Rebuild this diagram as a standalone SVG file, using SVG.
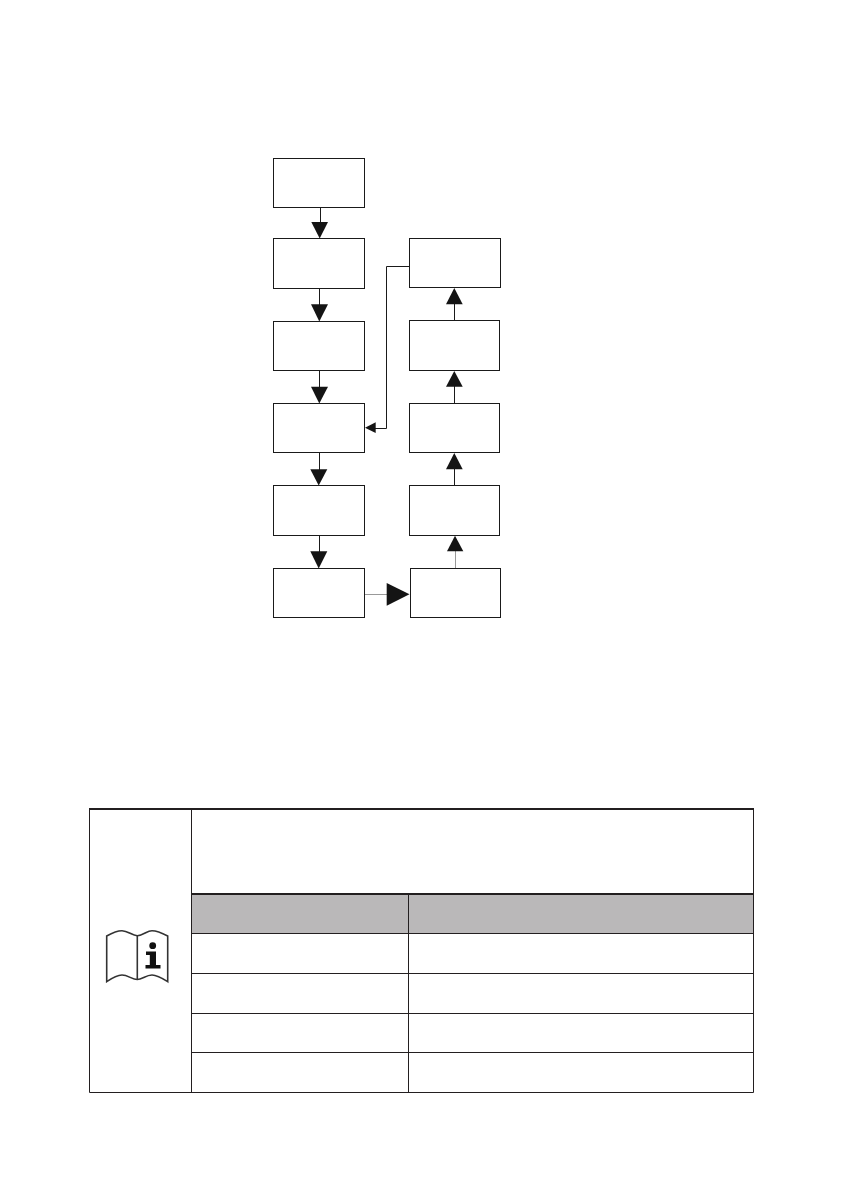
<svg xmlns="http://www.w3.org/2000/svg" width="842" height="1191" viewBox="0 0 842 1191">
<style>
.box{fill:#fff;stroke:#1a1a1a;stroke-width:1}
.ln{fill:none;stroke:#1a1a1a;stroke-width:1}
.gr{fill:none;stroke:#999;stroke-width:1}
.ah{fill:#141414;stroke:none}
.t1{fill:none;stroke:#231f20;stroke-width:1}
.t2{fill:none;stroke:#231f20;stroke-width:2}
.ic{fill:none;stroke:#333;stroke-width:1.6}
</style>
<rect width="842" height="1191" fill="#fff"/>
<g id="connectors">
<path class="ln" d="M320.5 207.5V223"/><path class="ah" d="M311.3 222H328L319.7 238.5Z"/>
<path class="ln" d="M319.5 288.5V305"/><path class="ah" d="M311 304.3H328L319.3 321.5Z"/>
<path class="ln" d="M319.5 370.5V387"/><path class="ah" d="M311 386.7H328L319.3 403.5Z"/>
<path class="ln" d="M319.5 452.5V470"/><path class="ah" d="M310.3 469.3H327.3L318.7 485.5Z"/>
<path class="ln" d="M319.5 535.5V552"/><path class="ah" d="M310.3 551.3H327.3L318.7 568.5Z"/>
<path class="gr" d="M365 594.5H387"/><path class="ah" d="M386.7 583V605.7L409.5 594.3Z"/>
<path class="gr" d="M455.5 568V551"/><path class="ah" d="M447 551.3H463.3L455 535.7Z"/>
<path class="ln" d="M454.5 485.5V469"/><path class="ah" d="M446 469.3H462.7L454.3 453Z"/>
<path class="ln" d="M454.5 403.5V386"/><path class="ah" d="M446 386.7H462.7L454.3 371Z"/>
<path class="ln" d="M454.5 320.5V304"/><path class="ah" d="M446 304.3H462.7L454.3 288Z"/>
<path class="ln" d="M409.5 266.5H386.5V428.5H375"/><path class="ah" d="M365 427.7L375.7 422.3V433Z"/>
</g>
<g id="node-l1"><rect class="box" x="273.5" y="158.5" width="91" height="49"/></g>
<g id="node-l2"><rect class="box" x="273.5" y="238.5" width="91" height="50"/></g>
<g id="node-l3"><rect class="box" x="273.5" y="321.5" width="91" height="49"/></g>
<g id="node-l4"><rect class="box" x="273.5" y="403.5" width="91" height="49"/></g>
<g id="node-l5"><rect class="box" x="273.5" y="485.5" width="91" height="50"/></g>
<g id="node-l6"><rect class="box" x="273.5" y="568.5" width="91" height="49"/></g>
<g id="node-r1"><rect class="box" x="409.5" y="238.5" width="91" height="49"/></g>
<g id="node-r2"><rect class="box" x="409.5" y="320.5" width="90" height="50"/></g>
<g id="node-r3"><rect class="box" x="409.5" y="403.5" width="90" height="49"/></g>
<g id="node-r4"><rect class="box" x="409.5" y="485.5" width="90" height="50"/></g>
<g id="node-r5"><rect class="box" x="410.5" y="568.5" width="90" height="49"/></g>
<g id="note-table">
<rect x="191" y="894" width="562" height="39.5" fill="#bab8b9"/>
<path class="t1" d="M89.5 809V1092.5H753.5V809"/>
<path class="t2" d="M89 809H754M191 894H754"/>
<path class="t1" d="M191.5 809V1092.5M408.5 894V1092.5M191 933.5H753.5M191 973.5H753.5M191 1013.5H753.5M191 1052.5H753.5"/>
</g>
<g id="note-icon">
<path class="ic" d="M106.7 936C112 933 117 930.7 122 930.7C128 930.7 132 935.7 137.3 935.7C143 935.7 147 930.7 152 930.7C157 930.7 162 933 167.7 936V981.7C162 978 157 975 152 975C146 975 142 979.5 137.3 979.5C132 979.5 128 975 122 975C117 975 112 978 106.7 981.7Z"/>
<path class="ic" d="M137.3 935.7V979.5"/>
<circle cx="152.7" cy="945.7" r="3.4" fill="#111"/>
<path fill="#111" d="M146 951.5H156V965H160.5V968.5H145.5V965H149.8V955H146Z"/>
</g>
</svg>
